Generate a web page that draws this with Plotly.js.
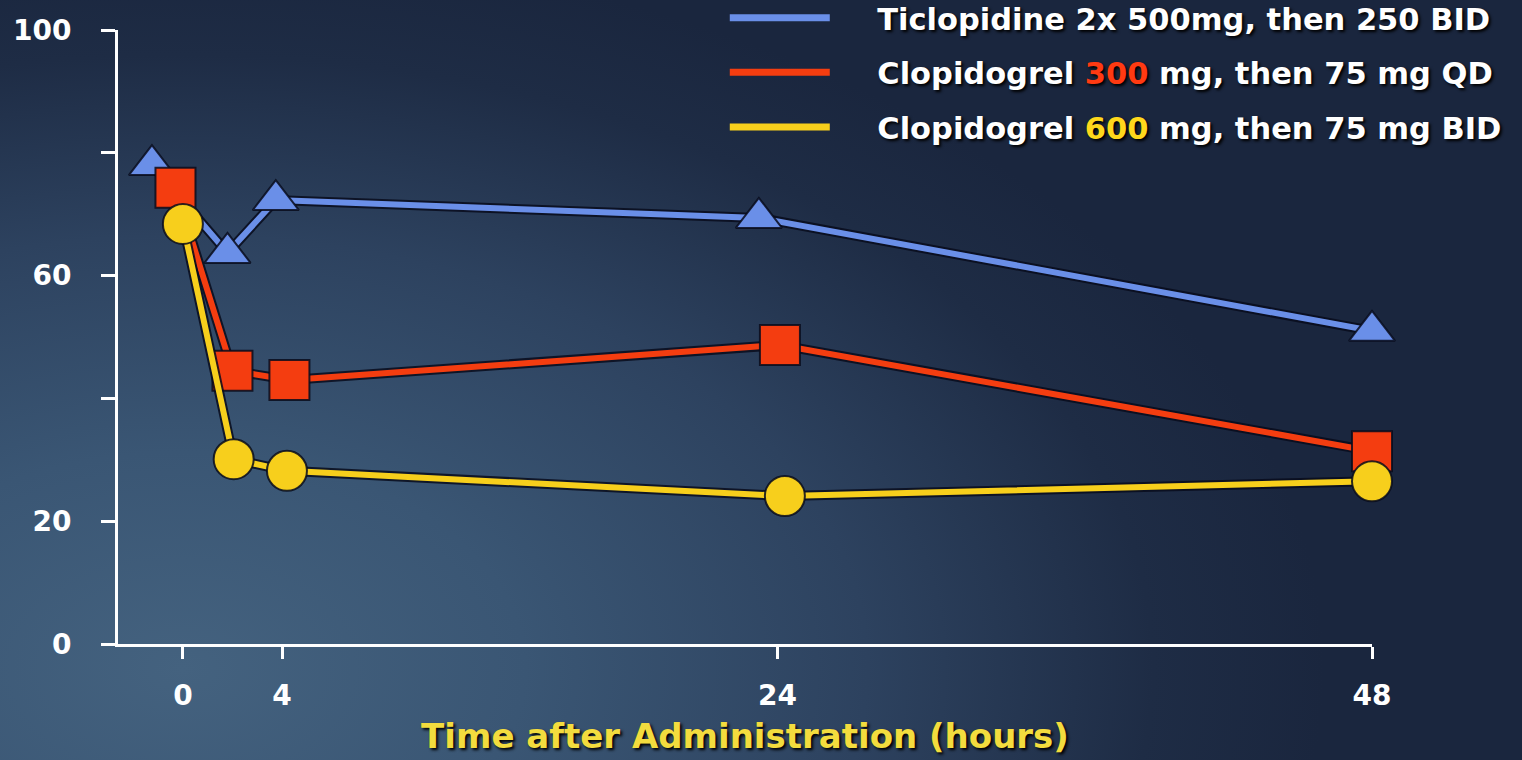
<!DOCTYPE html>
<html>
<head>
<meta charset="utf-8">
<script src="https://cdn.plot.ly/plotly-3.0.1.min.js"></script>
<style>
  html, body { margin: 0; padding: 0; width: 1522px; height: 760px; overflow: hidden; }
  #chart {
    width: 1522px; height: 760px;
    background:
      radial-gradient(ellipse 75% 95% at 12% 88%, #44627f 0%, #3a5674 30%, #2d425f 60%, #1e2c45 85%, #1a263e 100%);
  }
</style>
</head>
<body>
<div id="chart"></div>
<script>
// ---- data ----
const seriesNames = [
  "\u00A0\u00A0\u00A0\u00A0Ticlopidine 2x 500mg, then 250 BID",
  "\u00A0\u00A0\u00A0\u00A0Clopidogrel <span style='color:#ff3a12'>300</span> mg, then 75 mg QD",
  "\u00A0\u00A0\u00A0\u00A0Clopidogrel <span style='color:#ffd81c'>600</span> mg, then 75 mg BID"
];
const ticloX = [-1.25, 1.8, 3.75, 23.25, 48];
const ticloY = [78, 63.7, 72.3, 69.4, 51];
const clopi300X = [-0.3, 2.0, 4.3, 24.1, 48];
const clopi300Y = [74.3, 44.5, 43, 48.7, 31.4];
const clopi600X = [0, 2.05, 4.2, 24.3, 48];
const clopi600Y = [68.4, 30.1, 28.2, 24.1, 26.5];

const xTickVals = [0, 4, 24, 48];
const xTickText = ["0", "4", "24", "48"];
const yTickVals = [0, 20, 40, 60, 80, 100];
const yTickText = ["0", "20", "", "60", "", "100"];
const xTitle = "Time after Administration (hours)";

const colors = ["#6a8fe8", "#f43d10", "#f7cf1c"];
const symbols = ["triangle-up", "square", "circle"];
const sizes = [40, 40, 40];
const shadow = "rgba(8,12,28,0.85)";

const xs = [ticloX, clopi300X, clopi600X];
const ys = [ticloY, clopi300Y, clopi600Y];

const traces = [];
for (let i = 0; i < 3; i++) {
  traces.push({
    x: xs[i], y: ys[i], type: "scatter", mode: "lines",
    line: { color: shadow, width: 10 },
    showlegend: false, hoverinfo: "skip", cliponaxis: false
  });
  traces.push({
    x: xs[i], y: ys[i], type: "scatter", mode: "lines+markers",
    line: { color: colors[i], width: 6 },
    marker: { symbol: symbols[i], size: sizes[i], color: colors[i], line: { color: shadow, width: 2 } },
    showlegend: false, cliponaxis: false
  });
}
for (let i = 0; i < 3; i++) {
  traces.push({
    x: [null], y: [null], type: "scatter", mode: "lines",
    name: seriesNames[i], legendgroup: "g" + i,
    line: { color: colors[i], width: 7 }
  });
}

const tickFont = { family: "DejaVu Sans", size: 28, color: "#ffffff", weight: "bold" };

const layout = {
  width: 1522, height: 760,
  paper_bgcolor: "rgba(0,0,0,0)",
  plot_bgcolor: "rgba(0,0,0,0)",
  margin: { l: 118, r: 150, t: 30, b: 116, autoexpand: false },
  showlegend: true,
  legend: {
    xref: "container", yref: "paper",
    x: 0.99, xanchor: "right", y: 1.063, yanchor: "top",
    bgcolor: "rgba(0,0,0,0)", borderwidth: 0,
    itemwidth: 100, tracegroupgap: 12, traceorder: "grouped",
    font: { family: "DejaVu Sans", size: 30.5, color: "#ffffff", weight: "bold", shadow: "2px 2px 3px #000" }
  },
  xaxis: {
    range: [-2.62, 48],
    showgrid: false, zeroline: false,
    showline: true, linecolor: "#ffffff", linewidth: 3,
    ticks: "outside", ticklen: 12, tickwidth: 3, tickcolor: "#ffffff",
    tickvals: xTickVals, ticktext: xTickText,
    tickfont: tickFont, ticklabelstandoff: 12,
    title: { text: xTitle, standoff: 14,
      font: { family: "DejaVu Sans", size: 34, color: "#f3dc3e", weight: "bold", shadow: "2px 2px 3px #000" } }
  },
  yaxis: {
    range: [0, 100],
    showgrid: false, zeroline: false,
    showline: true, linecolor: "#ffffff", linewidth: 3,
    ticks: "outside", ticklen: 14, tickwidth: 3, tickcolor: "#ffffff",
    tickvals: yTickVals, ticktext: yTickText,
    tickfont: tickFont, ticklabelstandoff: 24
  }
};

Plotly.newPlot("chart", traces, layout, { displayModeBar: false, staticPlot: true });
</script>
</body>
</html>
